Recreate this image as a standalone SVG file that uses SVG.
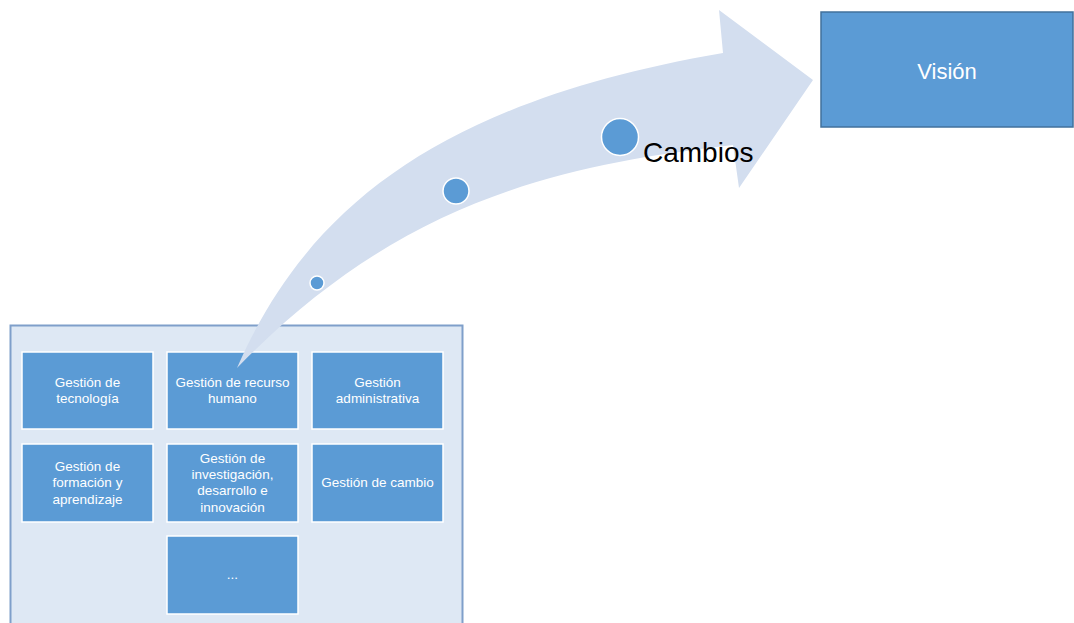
<svg xmlns="http://www.w3.org/2000/svg" width="1074" height="623" viewBox="0 0 1074 623">
<style>
.box{fill:#5b9bd5;stroke:#ffffff;stroke-width:1.5}
.bt{font-family:"Liberation Sans",Arial,sans-serif;font-size:13.5px;fill:#ffffff;text-anchor:middle}
.dot{fill:#5b9bd5;stroke:#ffffff;stroke-width:1.5}
</style>
<rect width="1074" height="623" fill="#ffffff"/>
<g id="container">
<rect x="10.5" y="325.5" width="452" height="310" fill="#dee8f4" stroke="#7f9fca" stroke-width="2"/>
</g>
<g id="vision">
<rect x="821" y="12" width="252" height="115" fill="#5b9bd5" stroke="#41719c" stroke-width="1.5"/>
<text x="947" y="79" font-family="'Liberation Sans',Arial,sans-serif" font-size="22" fill="#ffffff" text-anchor="middle">Visión</text>
</g>
<g id="n-tecnologia">
<rect class="box" x="22" y="352" width="131" height="77"/>
<text class="bt" x="87.5" y="386.5">Gestión de</text>
<text class="bt" x="87.5" y="402.8">tecnología</text>
</g>
<g id="n-recurso">
<rect class="box" x="167" y="352" width="131" height="77"/>
<text class="bt" x="232.5" y="386.5">Gestión de recurso</text>
<text class="bt" x="232.5" y="402.8">humano</text>
</g>
<g id="n-administrativa">
<rect class="box" x="312" y="352" width="131" height="77"/>
<text class="bt" x="377.5" y="386.5">Gestión</text>
<text class="bt" x="377.5" y="402.8">administrativa</text>
</g>
<g id="n-formacion">
<rect class="box" x="22" y="444" width="131" height="78"/>
<text class="bt" x="87.5" y="470.9">Gestión de</text>
<text class="bt" x="87.5" y="487.2">formación y</text>
<text class="bt" x="87.5" y="503.5">aprendizaje</text>
</g>
<g id="n-investigacion">
<rect class="box" x="167" y="444" width="131" height="78"/>
<text class="bt" x="232.5" y="462.7">Gestión de</text>
<text class="bt" x="232.5" y="479.1">investigación,</text>
<text class="bt" x="232.5" y="495.3">desarrollo e</text>
<text class="bt" x="232.5" y="511.7">innovación</text>
</g>
<g id="n-cambio">
<rect class="box" x="312" y="444" width="131" height="78"/>
<text class="bt" x="377.5" y="487.2">Gestión de cambio</text>
</g>
<g id="n-etc">
<rect class="box" x="167" y="536" width="131" height="78"/>
<text class="bt" x="232.5" y="579">...</text>
</g>
<g id="connectors">
<path id="arrow" d="M237,368 C310,200 450,100 723,53 L719,10 L813,80 L739,188 L733,145 C560,165 400,200 237,368 Z" fill="#d3deef"/>
<circle class="dot" cx="317" cy="283" r="7"/>
<circle class="dot" cx="456" cy="191" r="13"/>
<circle class="dot" cx="620" cy="137" r="18.5"/>
<text x="643" y="162" font-family="'Liberation Sans',Arial,sans-serif" font-size="28" fill="#000000">Cambios</text>
</g>
</svg>
